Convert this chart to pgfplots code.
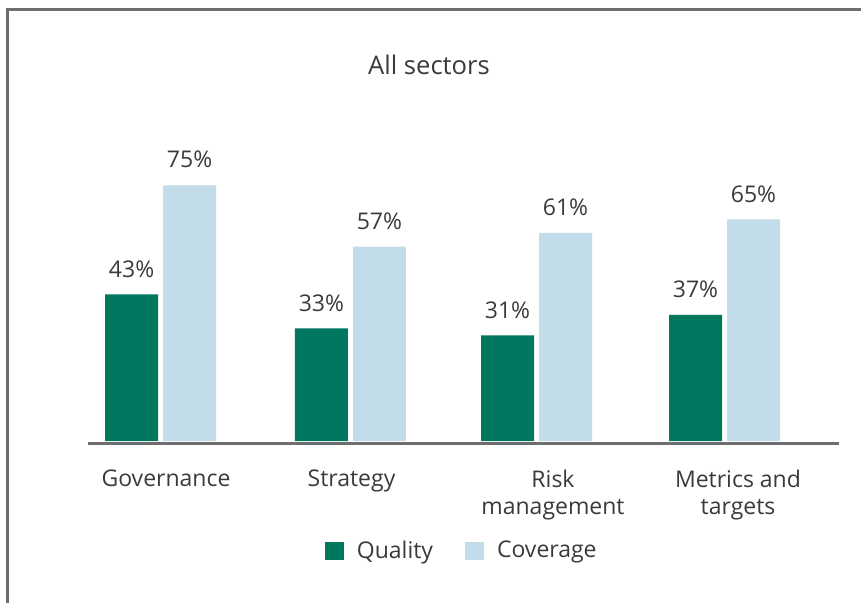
\documentclass[border=0pt]{standalone}
\usepackage{pgfplots}
\pgfplotsset{compat=1.18}
\usepackage{fontspec}
\setmainfont{Open Sans}
\definecolor{qual}{HTML}{00775F}
\definecolor{cov}{HTML}{C2DCEA}
\definecolor{txt}{HTML}{3A3A3A}
\definecolor{frame}{HTML}{6E6E6E}
\begin{document}
\begin{tikzpicture}
\useasboundingbox (0,0) rectangle (430.5pt,301pt);
\draw[frame, line width=1.5pt] (3.5pt,-10pt) -- (3.5pt,296.5pt) -- (440pt,296.5pt);
\node[txt, font=\fontsize{12.8}{15}\selectfont] at (214.5pt,268.5pt) {All sectors};
\begin{axis}[
  at={(44pt,80.5pt)}, anchor=south west,
  scale only axis, width=375.5pt, height=170.5pt,
  xmin=-0.386, xmax=3.609, ymin=0, ymax=100,
  axis lines=none,
  ybar, bar width=26.5pt,
  /pgf/number format/assume math mode=true,
  clip=false,
  nodes near coords={\pgfmathprintnumber{\pgfplotspointmeta}\%},
  every node near coord/.append style={txt, font=\fontsize{11.5}{14}\selectfont, anchor=south, yshift=5pt},
  legend style={at={(axis description cs:0.499,-0.3226)}, anchor=center, draw=none,
    font=\fontsize{11.5}{14}\selectfont, text=txt, legend columns=2,
    /tikz/every even column/.append style={column sep=14pt}},
  legend image code/.code={\fill[#1] (0pt,-4.4pt) rectangle (9.5pt,4.4pt); \path (14pt,0pt);},
]
\addplot[fill=qual, draw=none, bar shift=-14.5pt] coordinates {(0,43) (1.01,33) (2,31) (3,37)};
\addplot[fill=cov, draw=none, bar shift=14.5pt] coordinates {(0,75) (1.01,57) (2,61) (3,65)};
\legend{Quality, Coverage}
\draw[frame, line width=1.5pt] ([yshift=-1pt]axis description cs:0,0) -- ([yshift=-1pt]axis description cs:1,0);
\end{axis}
\node[txt, font=\fontsize{11.5}{13.5}\selectfont, align=center, anchor=north] at (83pt,69.5pt) {Governance};
\node[txt, font=\fontsize{11.5}{13.5}\selectfont, align=center, anchor=north] at (175.75pt,69.5pt) {Strategy};
\node[txt, font=\fontsize{11.5}{13.5}\selectfont, align=center, anchor=north] at (276.5pt,69.5pt) {Risk\\management};
\node[txt, font=\fontsize{11.5}{13.5}\selectfont, align=center, anchor=north] at (369pt,69.5pt) {Metrics and\\targets};
\end{tikzpicture}
\end{document}
